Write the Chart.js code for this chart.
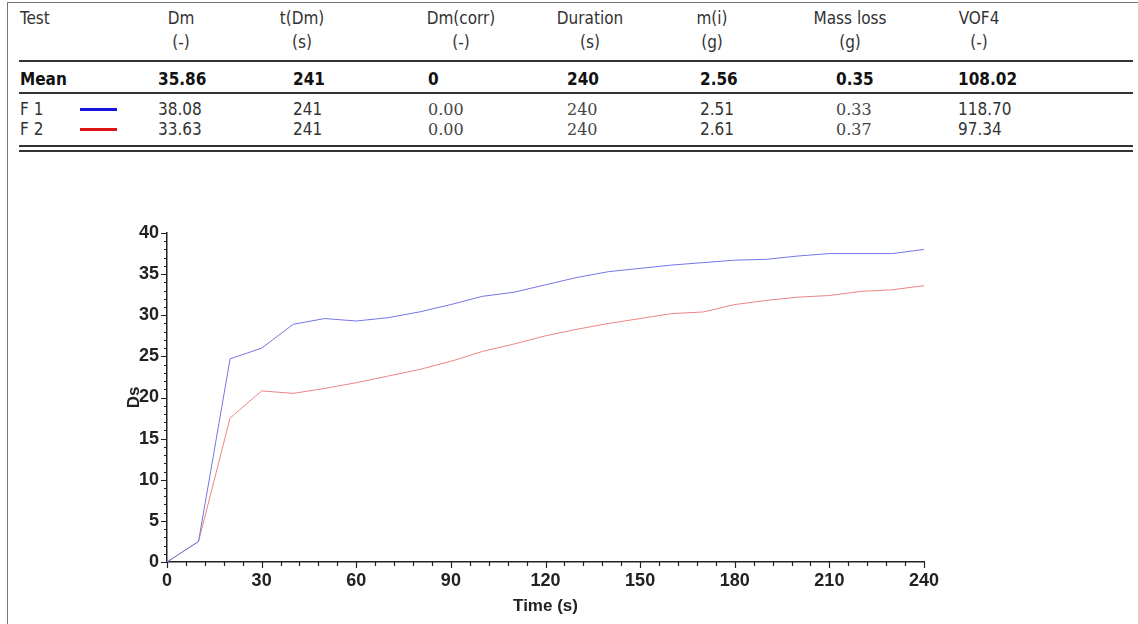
<!DOCTYPE html>
<html>
<head>
<meta charset="utf-8">
<script src="https://cdn.jsdelivr.net/npm/chart.js@4.4.1/dist/chart.umd.min.js"></script>
<style>
  html, body { margin: 0; padding: 0; background: #fff; }
  body { width: 1138px; height: 624px; position: relative; overflow: hidden; }
  #frame { position: absolute; left: 7px; top: 2px; right: -2px; bottom: -2px; border-left: 1px solid #777; border-top: 1px solid #777; }
  .cell { position: absolute; white-space: nowrap; font-family: "DejaVu Sans Condensed", "DejaVu Sans", sans-serif; font-size: 17px; color: #333; line-height: 20px; }
  .hc { transform: translateX(-50%); }
  .bold { font-weight: bold; color: #111; }
  .serif { font-family: "DejaVu Serif", serif; font-size: 16px; color: #444; }
  .rule { position: absolute; left: 19px; width: 1114px; background: #333; }
  .swatch { position: absolute; left: 80px; width: 37px; height: 3px; }
  #chartBox { position: absolute; left: 0; top: 160px; width: 1138px; height: 464px; }
</style>
</head>
<body>
<div id="frame"></div>
<div id="table"></div>
<div id="chartBox"><canvas id="chart"></canvas></div>
<script>
// ------------------------- Table data -------------------------
const headers = ['Dm', 't(Dm)', 'Dm(corr)', 'Duration', 'm(i)', 'Mass loss', 'VOF4'];
const units = ['(-)', '(s)', '(-)', '(s)', '(g)', '(g)', '(-)'];
const meanRow = ['35.86', '241', '0', '240', '2.56', '0.35', '108.02'];
const testNames = ['F 1', 'F 2'];
const testColors = ['#1414dc', '#e01414'];
const testRows = [
  ['38.08', '241', '0.00', '240', '2.51', '0.33', '118.70'],
  ['33.63', '241', '0.00', '240', '2.61', '0.37', '97.34']
];
const serifCols = [2, 3, 5];

// ------------------------- Chart data -------------------------
const times = [0, 10, 20, 30, 40, 50, 60, 70, 80, 90, 100, 110, 120, 130, 140, 150, 160, 170, 180, 190, 200, 210, 220, 230, 240];
const f1Values = [0, 2.5, 24.7, 26.0, 28.9, 29.6, 29.3, 29.7, 30.4, 31.3, 32.3, 32.8, 33.7, 34.6, 35.3, 35.7, 36.1, 36.4, 36.7, 36.8, 37.2, 37.5, 37.5, 37.5, 38.0];
const f2Values = [0, 2.5, 17.5, 20.8, 20.5, 21.1, 21.8, 22.6, 23.4, 24.4, 25.6, 26.5, 27.5, 28.3, 29.0, 29.6, 30.2, 30.4, 31.3, 31.8, 32.2, 32.4, 32.9, 33.1, 33.6];

// ------------------------- Build table -------------------------
const table = document.getElementById('table');
const headCenters = [181, 302, 461, 590, 712, 850, 979];
const valueLefts = [158, 293, 428, 567, 700, 836, 958];

function addCell(text, x, y, cls) {
  const d = document.createElement('div');
  d.className = 'cell ' + (cls || '');
  d.textContent = text;
  d.style.left = x + 'px';
  d.style.top = y + 'px';
  table.appendChild(d);
  return d;
}
function addRule(y, h) {
  const d = document.createElement('div');
  d.className = 'rule';
  d.style.top = y + 'px';
  d.style.height = h + 'px';
  table.appendChild(d);
}

addCell('Test', 20, 8);
headers.forEach((h, i) => {
  addCell(h, headCenters[i], 8, 'hc');
  addCell(units[i], headCenters[i], 32, 'hc');
});
addRule(60, 2);
addCell('Mean', 20, 69, 'bold');
meanRow.forEach((v, i) => addCell(v, valueLefts[i], 69, 'bold'));
addRule(92, 2);
testRows.forEach((row, r) => {
  const y = 99 + r * 20;
  addCell(testNames[r], 20, y);
  const sw = document.createElement('div');
  sw.className = 'swatch';
  sw.style.top = (y + 9) + 'px';
  sw.style.background = testColors[r];
  table.appendChild(sw);
  row.forEach((v, i) => {
    const c = addCell(v, valueLefts[i], y, serifCols.includes(i) ? 'serif' : '');
    if (serifCols.includes(i)) c.style.top = (y + 1) + 'px';
  });
});
addRule(145, 2);
addRule(150, 2);

// ------------------------- Minor/major tick plugin -------------------------
const tickMarks = {
  id: 'tickMarks',
  afterDraw(chart) {
    const c = chart.ctx;
    const xs = chart.scales.x, ys = chart.scales.y;
    const area = chart.chartArea;
    c.save();
    c.strokeStyle = '#222';
    c.lineWidth = 1.2;
    c.beginPath();
    for (let v = 0; v <= 240; v += 6) {
      const px = Math.round(xs.getPixelForValue(v)) + 0.5;
      const len = v % 30 === 0 ? 6 : 4;
      c.moveTo(px, area.bottom);
      c.lineTo(px, area.bottom + len);
    }
    for (let v = 0; v <= 40; v += 1) {
      const py = Math.round(ys.getPixelForValue(v)) + 0.5;
      const len = v % 5 === 0 ? 6 : 3;
      c.moveTo(area.left, py);
      c.lineTo(area.left - len, py);
    }
    c.stroke();
    c.restore();
  }
};

const tickFont = { family: '"Liberation Sans", Arial, sans-serif', size: 18, weight: 'bold' };
const titleFont = { family: '"Liberation Sans", Arial, sans-serif', size: 17, weight: 'bold' };

new Chart(document.getElementById('chart'), {
  type: 'line',
  data: {
    datasets: [
      {
        label: 'F 1',
        data: times.map((t, i) => ({ x: t, y: f1Values[i] })),
        borderColor: '#7575e6',
        borderWidth: 1,
        pointRadius: 0,
        tension: 0
      },
      {
        label: 'F 2',
        data: times.map((t, i) => ({ x: t, y: f2Values[i] })),
        borderColor: '#ee8484',
        borderWidth: 1,
        pointRadius: 0,
        tension: 0
      }
    ]
  },
  options: {
    responsive: true,
    maintainAspectRatio: false,
    animation: false,
    layout: { padding: { top: 73, right: 214, bottom: 0, left: 0 } },
    plugins: { legend: { display: false }, tooltip: { enabled: false } },
    scales: {
      x: {
        type: 'linear',
        min: 0,
        max: 240,
        grid: { display: false, drawTicks: false },
        border: { display: true, color: '#222', width: 1.5 },
        ticks: { stepSize: 30, padding: 8, color: '#222', font: tickFont, maxRotation: 0, autoSkip: false },
        title: { display: true, text: 'Time (s)', color: '#222', font: titleFont, padding: { top: 0, bottom: 7 } },
        afterFit(scale) { scale.height = 62; }
      },
      y: {
        min: 0,
        max: 40,
        grid: { display: false, drawTicks: false },
        border: { display: true, color: '#222', width: 1.5 },
        ticks: { stepSize: 5, padding: 8, color: '#222', font: tickFont },
        title: { display: true, text: 'Ds', color: '#222', font: titleFont, padding: { top: 124, bottom: 0 } },
        afterFit(scale) { scale.width = 167; }
      }
    }
  },
  plugins: [tickMarks]
});
</script>
</body>
</html>
